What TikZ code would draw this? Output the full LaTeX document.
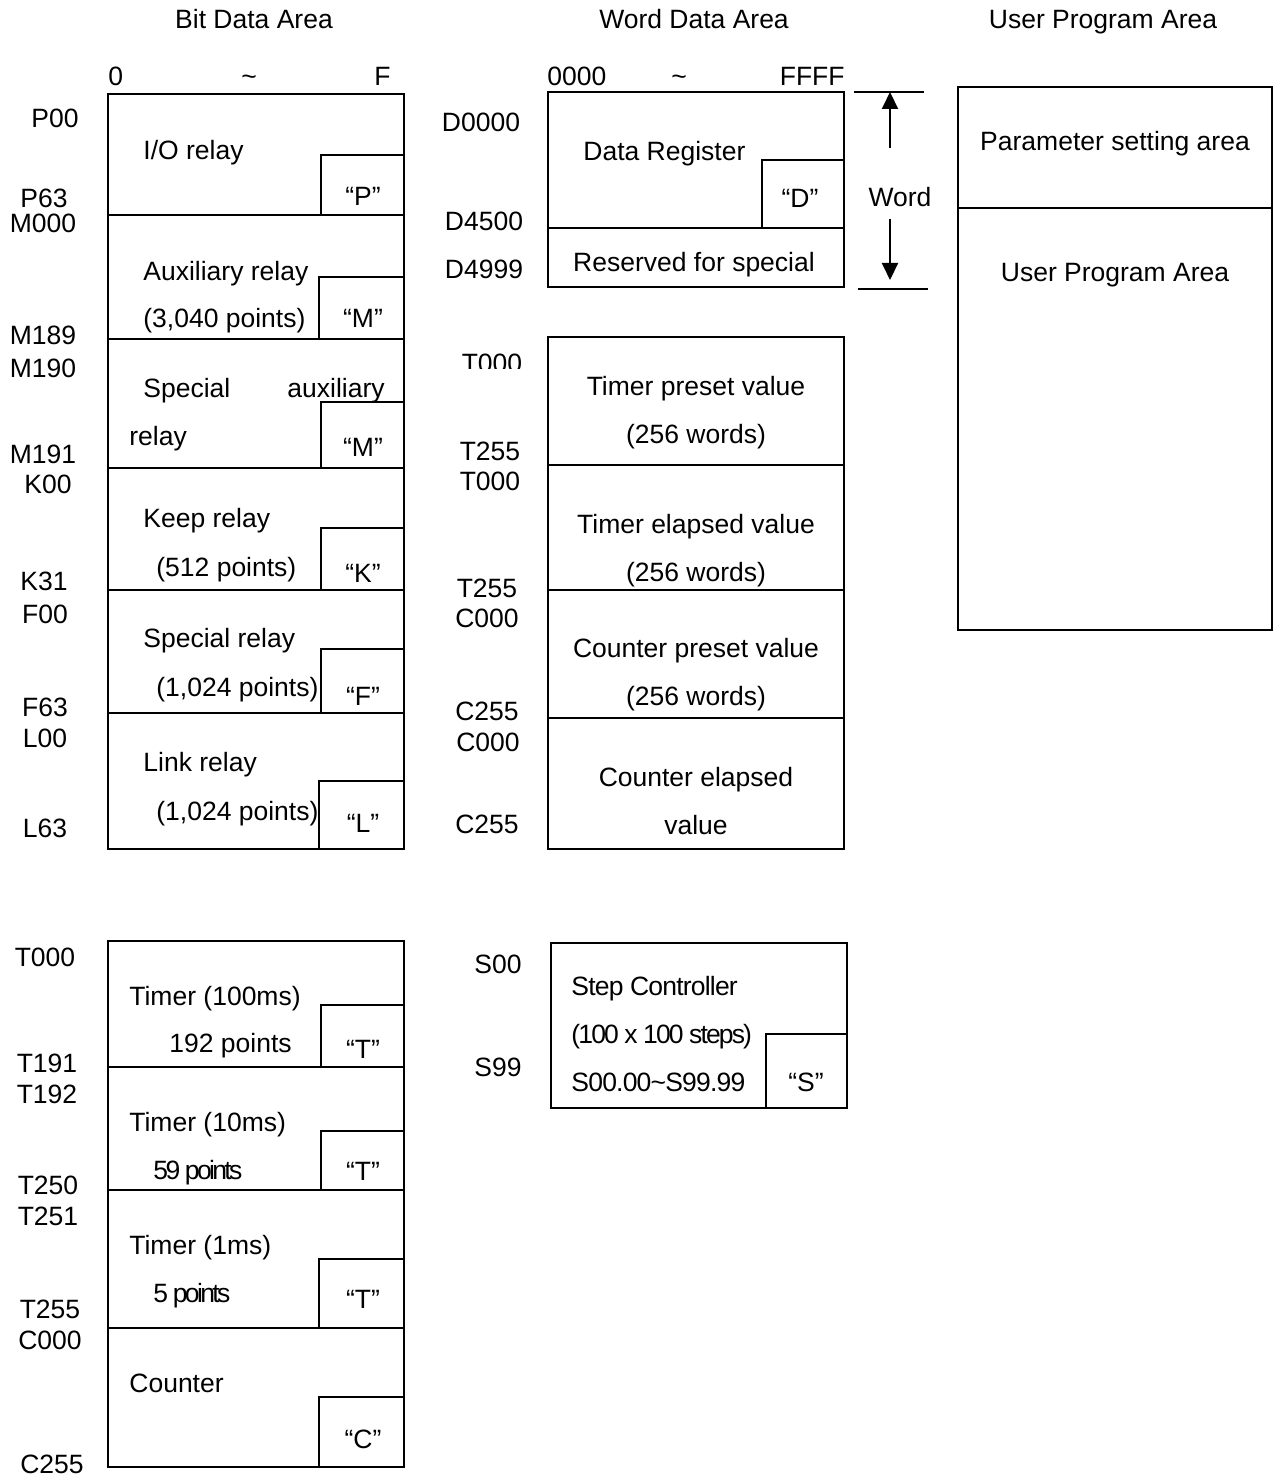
\documentclass[tikz,border=0pt]{standalone}
\usepackage{fontspec}
\setmainfont{Liberation Sans}
\usetikzlibrary{arrows.meta}

\begin{document}
\begin{tikzpicture}[x=0.5pt,y=-0.5pt]
		\tikzstyle{cadre} = [line width=1pt]
		\tikzstyle{texte} = [inner sep=0pt,font=\fontsize{13.25pt}{16pt}\selectfont]
		\tikzstyle{gauche} = [texte,anchor=base west]
		\tikzstyle{centre} = [texte,anchor=base]
		\tikzstyle{droite} = [texte,anchor=base east]
		\tikzstyle{fleche} = [-{Triangle[width=8pt,length=8.5pt]},line width=1pt]
		\tikzset{serre/.style={gauche,font=\fontsize{13.25pt}{16pt}\selectfont\addfontfeature{LetterSpace=#1}}}
		
		\useasboundingbox (0,0) rectangle (1273,1476);
		
		\node[centre](titreBit) at (254,29) {Bit Data Area};
		\node[centre](titreMot) at (694,29) {Word Data Area};
		\node[centre](titreProg) at (1103,29) {User Program Area};
		
		\node[gauche](bit0) at (108,86) {0};
		\node[centre](bitTilde) at (249,86) {\textasciitilde};
		\node[droite](bitF) at (391,86) {F};
		\node[gauche](mot0) at (547,86) {0000};
		\node[centre](motTilde) at (679,86) {\textasciitilde};
		\node[droite](motF) at (845,86) {FFFF};
		
		\draw[cadre] (108,94) rectangle (404,849);
		\foreach \y in {215,339,468,590,713} \draw[cadre] (108,\y) -- (404,\y);
		\foreach \g/\h/\b in {321/155/215,319/277/339,321/402/468,321/528/590,321/649/713,319/781/849}
			\draw[cadre] (404,\h) -| (\g,\b);
		
		\node[gauche](io) at (143,160) {I/O relay};
		\node[gauche](aux) at (143,281) {Auxiliary relay};
		\node[gauche](auxPts) at (143,328) {(3,040 points)};
		\node[gauche](spec) at (143,397) {Special};
		\node[gauche](specAux) at (287,397) {auxiliary};
		\node[gauche](specRel) at (129,445) {relay};
		\node[gauche](keep) at (143,527) {Keep relay};
		\node[gauche](keepPts) at (156,576) {(512 points)};
		\node[gauche](special) at (143,647) {Special relay};
		\node[gauche](specialPts) at (156,696) {(1,024 points)};
		\node[gauche](link) at (143,771) {Link relay};
		\node[gauche](linkPts) at (156,820) {(1,024 points)};
		
		\node[centre](tagP) at (363,206) {“P”};
		\node[centre](tagM) at (363,328) {“M”};
		\node[centre](tagMs) at (363,456) {“M”};
		\node[centre](tagK) at (363,582) {“K”};
		\node[centre](tagF) at (363,705) {“F”};
		\node[centre](tagL) at (363,832) {“L”};
		
		\node[centre](p00) at (55,128) {P00};
		\node[centre](p63) at (44,208) {P63};
		\node[centre](m000) at (43,233) {M000};
		\node[centre](m189) at (43,344) {M189};
		\node[centre](m190) at (43,378) {M190};
		\node[centre](m191) at (43,463) {M191};
		\node[centre](k00) at (48,493) {K00};
		\node[centre](k31) at (44,590) {K31};
		\node[centre](f00) at (45,623) {F00};
		\node[centre](f63) at (45,716) {F63};
		\node[centre](l00) at (45,747) {L00};
		\node[centre](l63) at (45,837) {L63};
		
		\draw[cadre] (548,92) rectangle (844,287);
		\draw[cadre] (548,228) -- (844,228);
		\draw[cadre] (844,160) -| (762,228);
		\node[gauche](data) at (583,161) {Data Register};
		\node[centre](tagD) at (800,208) {“D”};
		\node[centre](reserve) at (694,272) {Reserved for special};
		\node[centre](d0000) at (481,132) {D0000};
		\node[centre](d4500) at (484,231) {D4500};
		\node[centre](d4999) at (484,279) {D4999};
		
		\draw[cadre] (854,92) -- (924,92);
		\draw[cadre] (858,289) -- (928,289);
		\coordinate (motHaut) at (890,92);
		\coordinate (motA) at (890,148);
		\coordinate (motB) at (890,219);
		\coordinate (motBas) at (890,280);
		\node[centre](mot) at (900,207) {Word};
		\draw[fleche] (motA) -- (motHaut);
		\draw[fleche] (motB) -- (motBas);
		
		\draw[cadre] (548,337) rectangle (844,849);
		\foreach \y in {465,590,718} \draw[cadre] (548,\y) -- (844,\y);
		\node[centre](tpv) at (696,395) {Timer preset value};
		\node[centre](tpvW) at (696,443) {(256 words)};
		\node[centre](tev) at (696,533) {Timer elapsed value};
		\node[centre](tevW) at (696,581) {(256 words)};
		\node[centre](cpv) at (696,657) {Counter preset value};
		\node[centre](cpvW) at (696,705) {(256 words)};
		\node[centre](cev) at (696,786) {Counter elapsed};
		\node[centre](cevV) at (696,834) {value};
		
		\begin{scope}
			\clip (430,340) rectangle (545,368.5);
			\node[centre](t000a) at (492,372) {T000};
		\end{scope}
		\node[centre](t255a) at (490,460) {T255};
		\node[centre](t000b) at (490,490) {T000};
		\node[centre](t255b) at (487,597) {T255};
		\node[centre](c000a) at (487,627) {C000};
		\node[centre](c255a) at (487,720) {C255};
		\node[centre](c000b) at (488,751) {C000};
		\node[centre](c255b) at (487,833) {C255};
		
		\draw[cadre] (958,87) rectangle (1272,630);
		\draw[cadre] (958,208) -- (1272,208);
		\node[centre](param) at (1115,151) {Parameter setting area};
		\node[centre](prog) at (1115,282) {User Program Area};
		
		\draw[cadre] (108,941) rectangle (404,1467);
		\foreach \y in {1067,1190,1328} \draw[cadre] (108,\y) -- (404,\y);
		\foreach \g/\h/\b in {321/1005/1067,321/1131/1190,319/1259/1328,319/1397/1467}
			\draw[cadre] (404,\h) -| (\g,\b);
		\node[gauche](t100) at (129,1005) {Timer (100ms)};
		\node[gauche](t100Pts) at (169,1052) {192 points};
		\node[gauche](t10) at (129,1131) {Timer (10ms)};
		\node[serre=-10](t10Pts) at (153,1179) {59 points};
		\node[gauche](t1) at (129,1254) {Timer (1ms)};
		\node[serre=-10](t1Pts) at (153,1302) {5 points};
		\node[gauche](cpt) at (129,1392) {Counter};
		\node[centre](tagT1) at (363,1058) {“T”};
		\node[centre](tagT2) at (363,1180) {“T”};
		\node[centre](tagT3) at (363,1308) {“T”};
		\node[centre](tagC) at (363,1448) {“C”};
		
		\node[centre](t000c) at (45,966) {T000};
		\node[centre](t191) at (47,1072) {T191};
		\node[centre](t192) at (47,1103) {T192};
		\node[centre](t250) at (48,1194) {T250};
		\node[centre](t251) at (48,1225) {T251};
		\node[centre](t255c) at (50,1318) {T255};
		\node[centre](c000c) at (50,1349) {C000};
		\node[centre](c255c) at (52,1473) {C255};
		
		\draw[cadre] (551,943) rectangle (847,1108);
		\draw[cadre] (847,1034) -| (766,1108);
		\node[serre=-3](step) at (571,995) {Step Controller};
		\node[serre=-7](steps) at (571,1043) {(100 x 100 steps)};
		\node[serre=-3](stepRange) at (571,1091) {S00.00\textasciitilde S99.99};
		\node[centre](tagS) at (806,1091) {“S”};
		\node[centre](s00) at (498,973) {S00};
		\node[centre](s99) at (498,1076) {S99};
		\end{tikzpicture}
\end{document}
